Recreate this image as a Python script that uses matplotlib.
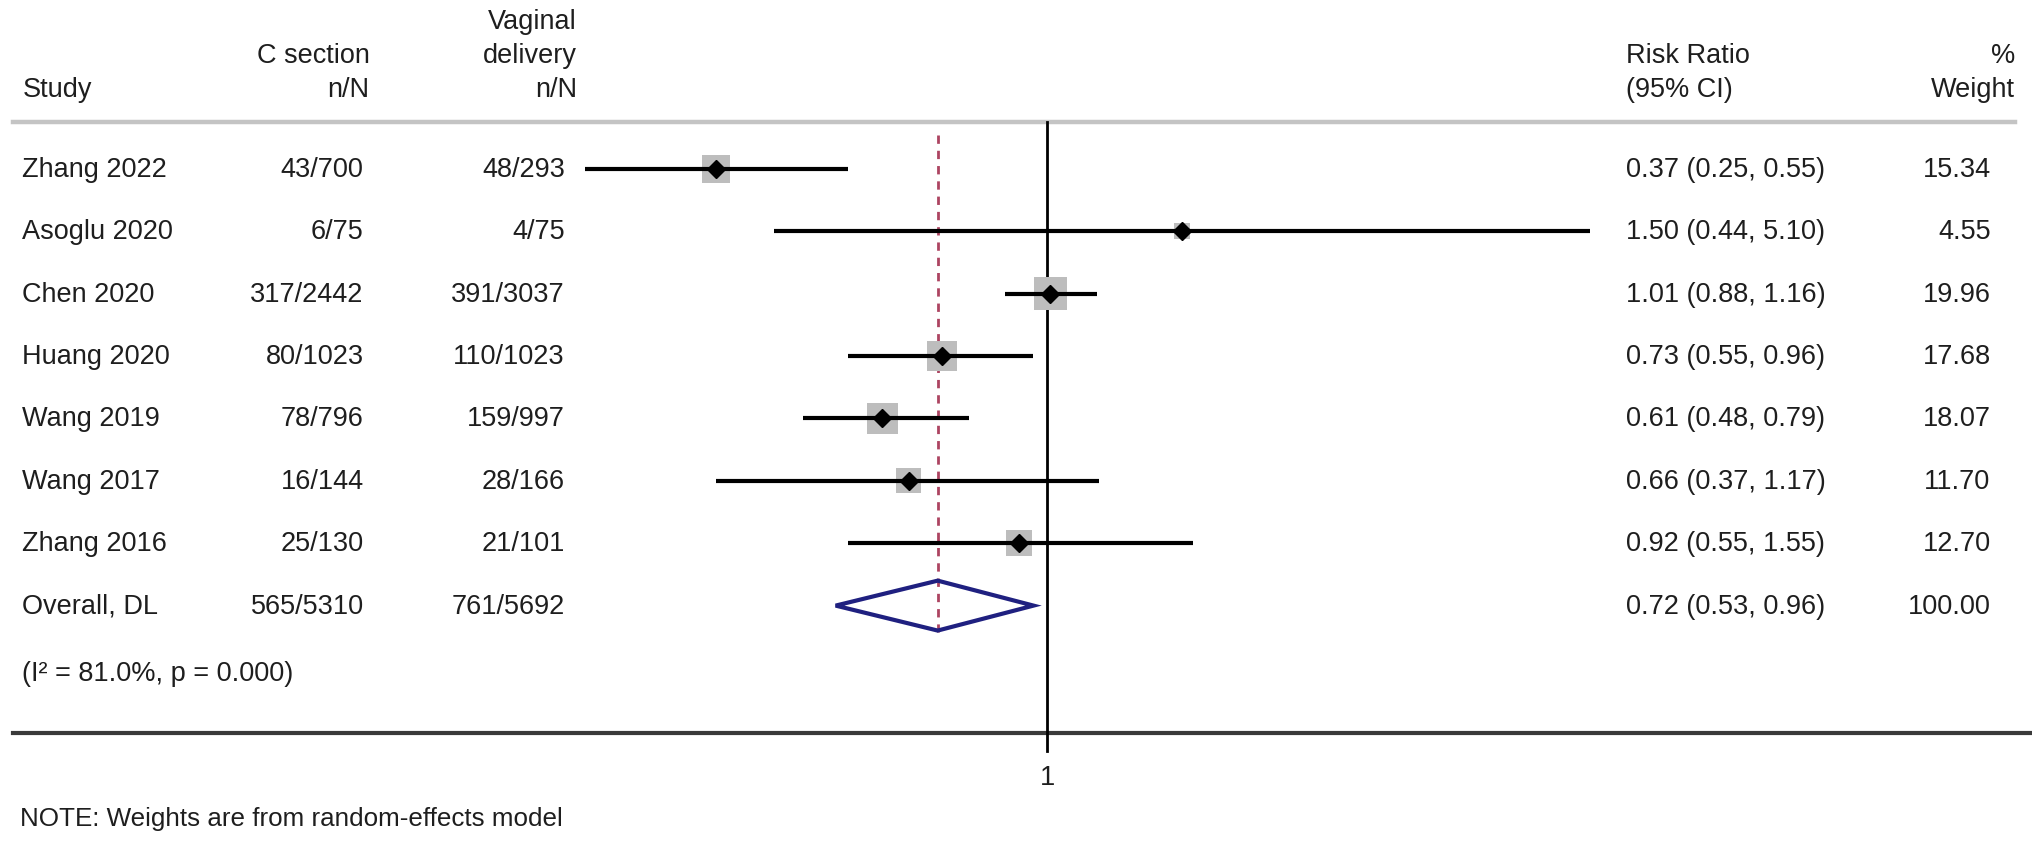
import numpy as np
import matplotlib.pyplot as plt
from matplotlib.patches import Polygon
from matplotlib.transforms import blended_transform_factory

plt.rcParams['font.family'] = ['Liberation Sans', 'DejaVu Sans']

studies = ["Zhang 2022", "Asoglu 2020", "Chen 2020", "Huang 2020", "Wang 2019", "Wang 2017", "Zhang 2016"]
cs_n = [43, 6, 317, 80, 78, 16, 25]
cs_N = [700, 75, 2442, 1023, 796, 144, 130]
vd_n = [48, 4, 391, 110, 159, 28, 21]
vd_N = [293, 75, 3037, 1023, 997, 166, 101]
rr = [0.37, 1.50, 1.01, 0.73, 0.61, 0.66, 0.92]
lo = [0.25, 0.44, 0.88, 0.55, 0.48, 0.37, 0.55]
hi = [0.55, 5.10, 1.16, 0.96, 0.79, 1.17, 1.55]
weight = [15.34, 4.55, 19.96, 17.68, 18.07, 11.70, 12.70]

overall_label = "Overall, DL"
overall_n = "565/5310"
overall_v = "761/5692"
overall_rr, overall_lo, overall_hi = 0.72, 0.53, 0.96
het_text = "(I² = 81.0%, p = 0.000)"

fig = plt.figure(figsize=(20.32, 8.45), dpi=100)
ax = fig.add_axes([0, 0, 1, 1])
ax.set_xscale('log')
ax.set_xlim(0.0431, 19.25)
ax.set_ylim(11.82, -1.72)
ax.axis('off')

tf = blended_transform_factory(fig.transFigure, ax.transData)
fs = 19.5
tc = '#1e1e1e'

# header
ax.text(0.284, -1.37, "Vaginal", transform=tf, ha='right', va='center', fontsize=fs, color=tc)
ax.text(0.182, -0.83, "C section", transform=tf, ha='right', va='center', fontsize=fs, color=tc)
ax.text(0.284, -0.83, "delivery", transform=tf, ha='right', va='center', fontsize=fs, color=tc)
ax.text(0.011, -0.27, "Study", transform=tf, ha='left', va='center', fontsize=fs, color=tc)
ax.text(0.182, -0.27, "n/N", transform=tf, ha='right', va='center', fontsize=fs, color=tc)
ax.text(0.284, -0.27, "n/N", transform=tf, ha='right', va='center', fontsize=fs, color=tc)
ax.text(0.8004, -0.83, "Risk Ratio", transform=tf, ha='left', va='center', fontsize=fs, color=tc)
ax.text(0.8004, -0.27, "(95% CI)", transform=tf, ha='left', va='center', fontsize=fs, color=tc)
ax.text(0.9917, -0.83, "%", transform=tf, ha='right', va='center', fontsize=fs, color=tc)
ax.text(0.9917, -0.27, "Weight", transform=tf, ha='right', va='center', fontsize=fs, color=tc)

# separator lines
ax.axhline(0.25, xmin=0.0064, xmax=0.9917, color='#c4c4c4', lw=3.2)
ax.axhline(10.04, xmin=0.0064, xmax=1.0, color='#3a3a3a', lw=3.0)

# null line and dashed overall line
ax.plot([1, 1], [0.25, 10.33], color='black', lw=2.0)
ax.plot([overall_rr, overall_rr], [0.46, 8.42], color='#ad4461', lw=2.0, ls=(0, (3, 2.5)))

rows = np.arange(1, len(studies) + 1)
for i, y in enumerate(rows):
    ax.text(0.011, y, studies[i], transform=tf, ha='left', va='center', fontsize=fs, color=tc)
    ax.text(0.179, y, f"{cs_n[i]}/{cs_N[i]}", transform=tf, ha='right', va='center', fontsize=fs, color=tc)
    ax.text(0.278, y, f"{vd_n[i]}/{vd_N[i]}", transform=tf, ha='right', va='center', fontsize=fs, color=tc)
    ax.text(0.8004, y, f"{rr[i]:.2f} ({lo[i]:.2f}, {hi[i]:.2f})", transform=tf,
            ha='left', va='center', fontsize=fs, color=tc)
    ax.text(0.9796, y, f"{weight[i]:.2f}", transform=tf, ha='right', va='center', fontsize=fs, color=tc)

ax.scatter(rr, rows, s=27.0 * np.array(weight), marker='s', color='#bdbdbd', zorder=2, linewidths=0)
ax.hlines(rows, lo, hi, color='black', lw=3.0, zorder=3)
ax.plot(rr, rows, ls='none', marker='D', markersize=9, color='black', zorder=4)

# overall
yo = len(studies) + 1
ax.text(0.011, yo, overall_label, transform=tf, ha='left', va='center', fontsize=fs, color=tc)
ax.text(0.179, yo, overall_n, transform=tf, ha='right', va='center', fontsize=fs, color=tc)
ax.text(0.278, yo, overall_v, transform=tf, ha='right', va='center', fontsize=fs, color=tc)
ax.text(0.8004, yo, f"{overall_rr:.2f} ({overall_lo:.2f}, {overall_hi:.2f})", transform=tf,
        ha='left', va='center', fontsize=fs, color=tc)
ax.text(0.9796, yo, f"{sum(weight):.2f}", transform=tf, ha='right', va='center', fontsize=fs, color=tc)
dh = 0.40
diamond = Polygon([[overall_lo, yo], [overall_rr, yo - dh], [overall_hi, yo], [overall_rr, yo + dh]],
                  closed=True, fill=False, edgecolor='#1f2080', lw=3.0, zorder=5)
ax.add_patch(diamond)

ax.text(0.011, 9.08, het_text, transform=tf, ha='left', va='center', fontsize=fs, color=tc)

ax.text(1, 10.74, "1", ha='center', va='center', fontsize=fs, color=tc)
ax.text(0.0096, 11.41, "NOTE: Weights are from random-effects model", transform=tf,
        ha='left', va='center', fontsize=18.7, color=tc)

fig.savefig("out.png", dpi=100)
